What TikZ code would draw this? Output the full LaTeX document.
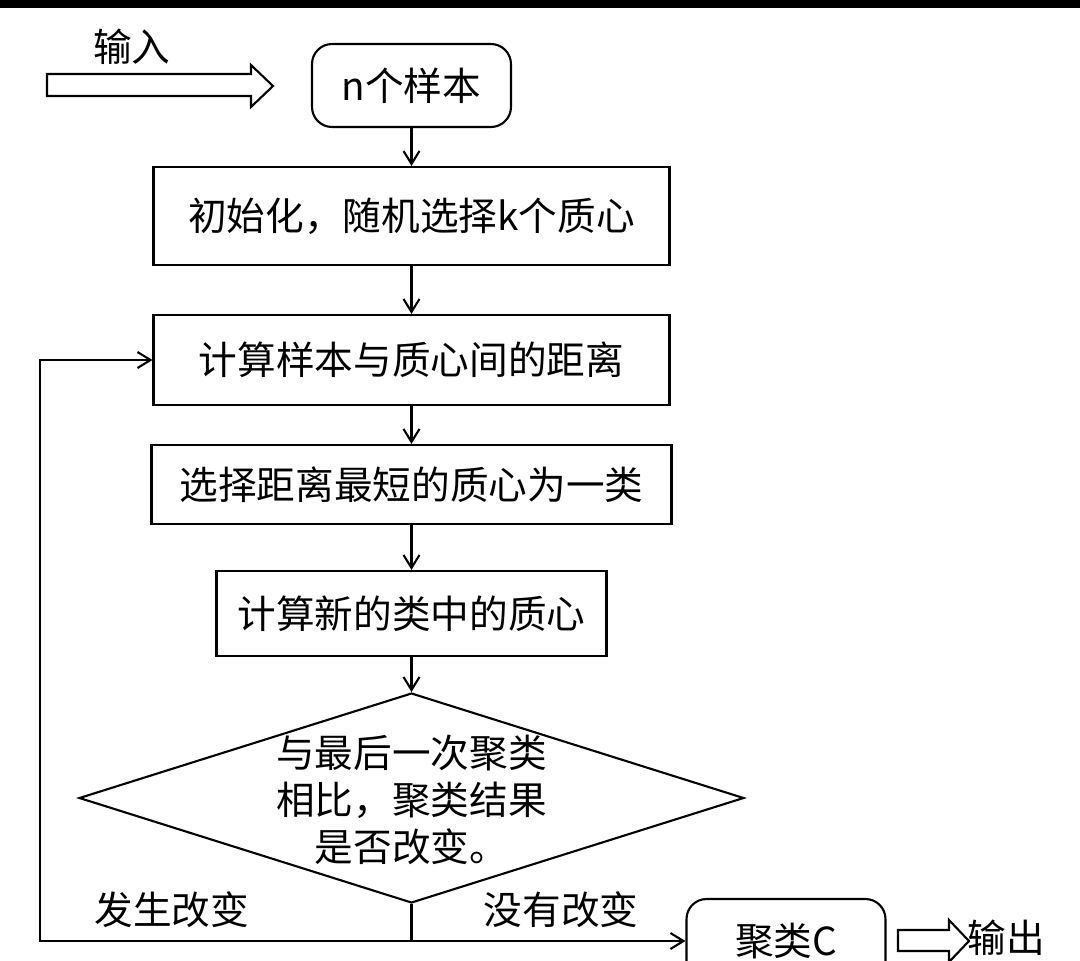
\documentclass[tikz,border=0pt]{standalone}
\usepackage{fontspec}
\setmainfont{Noto Sans CJK SC}
\usetikzlibrary{arrows.meta, shapes.geometric}

\begin{document}
\begin{tikzpicture}[x=0.02cm, y=-0.02cm, >={Straight Barb[length=2.6mm,width=3.2mm]},
    every node/.style={font=\fontsize{22}{26.7}\selectfont, inner sep=0pt},
    line/.style={line width=1.2pt},
    proc/.style={draw, line, rectangle},
    term/.style={proc, rounded corners=0.4cm},
    decision/.style={draw, line, diamond},
    arr/.style={line, ->}]
  \clip (0,0) rectangle (1080,961);
  \fill[black] (0,0) rectangle (1080,8);

  % steps
  \node[term] (samples) at (411.5,85.5) [minimum width=3.98cm, minimum height=1.66cm] {n个样本};
  \node[proc] (init) at (411.5,216) [minimum width=10.32cm, minimum height=1.96cm] {初始化，随机选择k个质心};
  \node[proc] (dist) at (411.5,360) [minimum width=10.32cm, minimum height=1.8cm] {计算样本与质心间的距离};
  \node[proc] (assign) at (411.5,484.5) [minimum width=10.4cm, minimum height=1.58cm] {选择距离最短的质心为一类};
  \node[proc] (update) at (411.5,613.5) [minimum width=7.8cm, minimum height=1.7cm] {计算新的类中的质心};
  \node[decision] (cmp) at (411.5,798) [minimum width=13.3cm, minimum height=4.2cm] {};
  \node[align=center] (cmptext) at (411.5,800) {与最后一次聚类\\相比，聚类结果\\是否改变。};
  \node[term] (res) at (786,941) [minimum width=3.98cm, minimum height=1.68cm] {聚类C};

  % labels
  \node (inlbl) at (132,47) {输入};
  \node (yeslbl) at (172,910) {发生改变};
  \node (nolbl) at (561,910) {没有改变};
  \node (outlbl) at (1006,938) {输出};

  % hollow arrows
  \draw[line] (47,74) -- (251,74) -- (251,65) -- (273,86) -- (251,107) -- (251,96) -- (47,96) -- cycle;
  \draw[line] (898,930) -- (949,930) -- (949,920) -- (969,941) -- (949,962) -- (949,951) -- (898,951) -- cycle;

  % flow
  \draw[arr] (samples) -- (init);
  \draw[arr] (init) -- (dist);
  \draw[arr] (dist) -- (assign);
  \draw[arr] (assign) -- (update);
  \draw[arr] (update) -- (cmp);
  \coordinate (split) at (411.5,941);
  \coordinate (back) at (40,941);
  \draw[line] (cmp.south) -- (split);
  \draw[arr] (split) -- (back) |- (dist.west);
  \draw[arr] (split) -- (split -| res.west);
\end{tikzpicture}
\end{document}
